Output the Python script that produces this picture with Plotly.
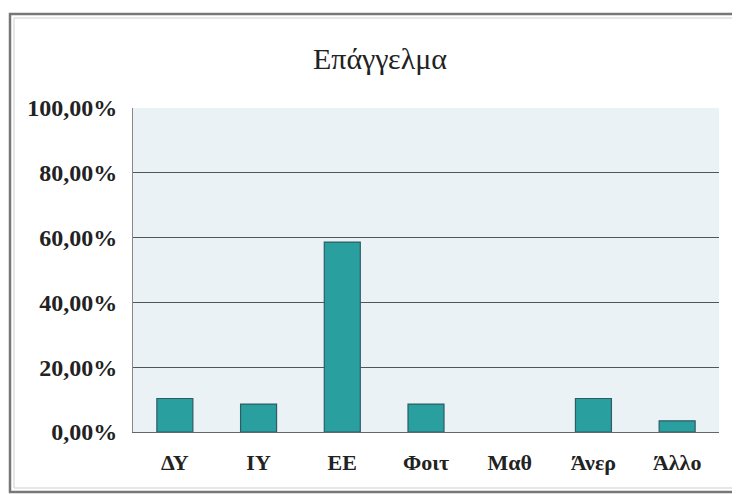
import plotly.graph_objects as go

categories = ["ΔΥ", "ΙΥ", "ΕΕ", "Φοιτ", "Μαθ", "Άνερ", "Άλλο"]
values = [0.1034, 0.0862, 0.5862, 0.0862, 0.0, 0.1034, 0.0345]
y_ticks = [0, 0.2, 0.4, 0.6, 0.8, 1.0]

# page body has an 8px margin, so work in page pixels minus the offset
OFF = 8
W, H = 740 - OFF, 494 - OFF
ML, MR, MT, MB = 133 - OFF, 21, 108 - OFF, 62
PW, PH = W - ML - MR, H - MT - MB

def px_x(x):
    return (x - OFF - ML) / PW

def px_y(y):
    return (H - MB - (y - OFF)) / PH

fig = go.Figure()
fig.add_trace(go.Bar(
    x=categories, y=values, width=0.43,
    marker=dict(color="#2a9fa0",
                line=dict(color="#2d5d63", width=[1.2 if v > 0 else 0 for v in values])),
    hoverinfo="x+y",
))

serif = "Liberation Serif, Times New Roman, serif"

fig.update_layout(
    width=W, height=H,
    margin=dict(l=ML, r=MR, t=MT, b=MB),
    paper_bgcolor="white",
    plot_bgcolor="#eaf2f5",
    separators=",.",
    showlegend=False,
    title=dict(text="Επάγγελμα", x=(380 - OFF) / W, xanchor="center", y=1 - (58 - OFF) / H,
               yanchor="middle", font=dict(family=serif, size=30, color="#222")),
    xaxis=dict(
        showgrid=False, showline=True, linecolor="#666", linewidth=1,
        ticks="", tickfont=dict(family=serif, size=22, color="#222", weight="bold"),
        ticklabelstandoff=11, range=[-0.5, 6.5],
    ),
    yaxis=dict(
        range=[0, 1.0], tickvals=y_ticks, tickformat=".2%",
        showgrid=True, gridcolor="#555", gridwidth=1,
        showline=True, linecolor="#888", linewidth=1, zeroline=False,
        ticks="", tickfont=dict(family=serif, size=24, color="#222", weight="bold"),
        ticklabelstandoff=10,
    ),
    shapes=[
        dict(type="rect", xref="paper", yref="paper",
             x0=px_x(10), x1=px_x(737), y0=px_y(492), y1=px_y(14),
             line=dict(color="#777", width=2.5), fillcolor="rgba(0,0,0,0)", layer="below"),
        dict(type="rect", xref="paper", yref="paper",
             x0=px_x(14), x1=px_x(733), y0=px_y(488), y1=px_y(18),
             line=dict(color="#cfcfcf", width=1), fillcolor="rgba(0,0,0,0)", layer="below"),
    ],
)

fig.write_html("out.html")
